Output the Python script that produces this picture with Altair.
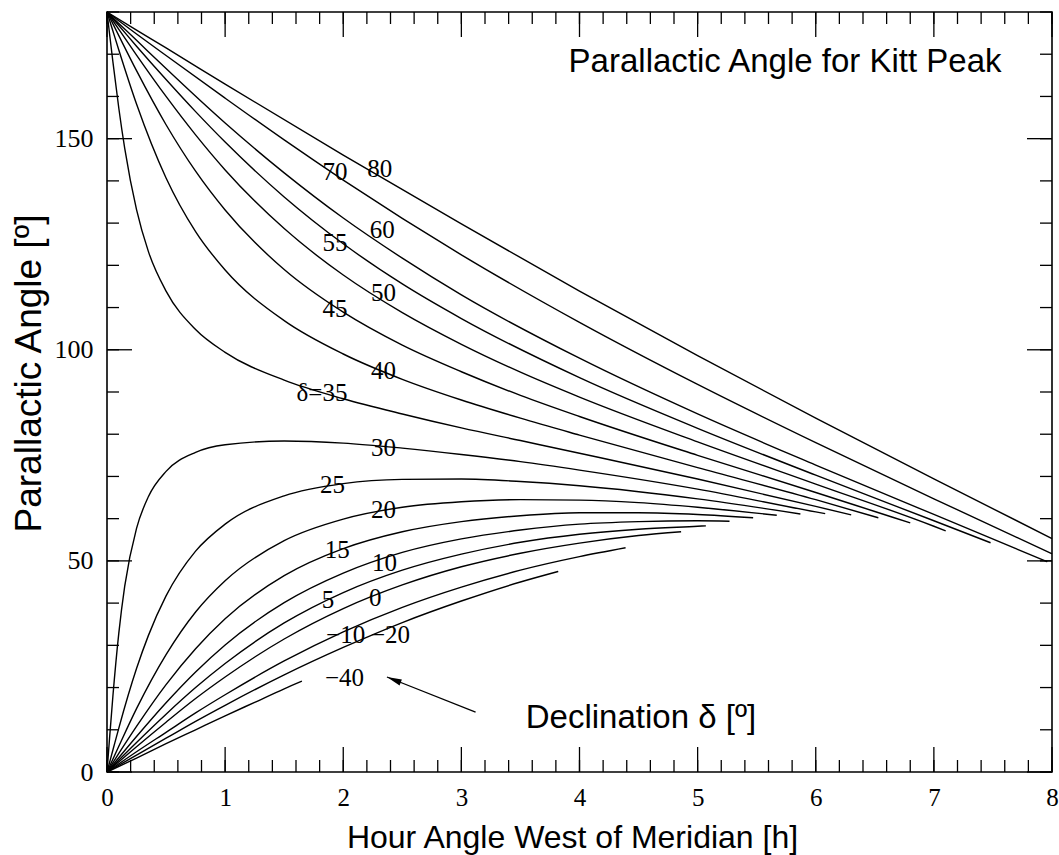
import altair as alt
import pandas as pd

# Parallactic angle (deg) against hour angle west of the meridian (h),
# one pair of arrays per declination.  Curves end where the object
# drops to the observing limit.
H_P80 = [0, 0.25, 0.5, 1, 2, 3, 4, 5, 6, 7, 8]
PA_P80 = [180, 175.7, 171.5, 162.9, 146.1, 129.8, 113.9, 98.6, 83.8, 69.4, 55.3]

H_P70 = [0, 0.25, 0.5, 1, 1.5, 2, 3, 4, 5, 6, 7, 8]
PA_P70 = [180, 174.8, 169.7, 159.6, 149.7, 140.2, 122.5, 106.5, 91.8, 78.0, 64.7, 51.7]

H_P60 = [0, 0.1, 0.25, 0.5, 1, 1.5, 2, 2.5, 3, 4, 5, 6, 7, 7.96]
PA_P60 = [180, 177.3, 173.3, 166.6, 153.7, 141.9, 131.2, 121.7, 113.0, 98.0, 84.8, 72.7, 61.0, 49.8]

H_P55 = [0, 0.1, 0.25, 0.5, 0.75, 1, 1.5, 2, 2.5, 3, 4, 5, 6, 7, 7.48]
PA_P55 = [180, 176.8, 171.9, 164.0, 156.4, 149.2, 136.2, 125.1, 115.6, 107.4, 93.4, 81.4, 70.3, 59.5, 54.3]

H_P50 = [0, 0.1, 0.25, 0.5, 0.75, 1, 1.5, 2, 2.5, 3, 3.5, 4, 5, 6, 7, 7.1]
PA_P50 = [180, 175.9, 169.8, 160.0, 150.9, 142.6, 128.7, 117.7, 108.8, 101.3, 94.7, 88.8, 78.2, 68.2, 58.2, 57.1]

H_P45 = [0, 0.1, 0.25, 0.5, 0.75, 1, 1.5, 2, 2.5, 3, 3.5, 4, 5, 6, 6.5, 6.8]
PA_P45 = [180, 174.4, 166.1, 153.3, 142.3, 133.1, 119.0, 108.9, 101.1, 94.8, 89.2, 84.2, 75.0, 66.2, 61.7, 59.0]

H_P40 = [0, 0.05, 0.1, 0.25, 0.5, 0.75, 1, 1.5, 2, 2.5, 3, 3.5, 4, 5, 6, 6.53]
PA_P40 = [180, 175.5, 171.0, 158.2, 140.7, 128.0, 118.9, 106.9, 99.0, 93.0, 88.1, 83.8, 79.8, 72.1, 64.5, 60.2]

H_P35 = [0, 0.02, 0.05, 0.1, 0.15, 0.25, 0.35, 0.5, 0.75, 1, 1.5, 2, 2.5, 3, 3.5, 4, 5, 6, 6.3]
PA_P35 = [180, 175.2, 168.2, 157.2, 147.7, 133.2, 123.3, 113.9, 104.8, 99.4, 92.8, 88.4, 84.8, 81.5, 78.5, 75.5, 69.4, 62.9, 60.9]

H_P30 = [0, 0.02, 0.05, 0.1, 0.15, 0.25, 0.35, 0.5, 0.75, 1, 1.5, 2, 2.5, 3, 3.5, 4, 5, 6, 6.08]
PA_P30 = [0, 7.4, 18.0, 32.9, 44.0, 57.7, 65.2, 71.2, 75.7, 77.5, 78.4, 77.9, 76.7, 75.2, 73.5, 71.5, 67.0, 61.6, 61.2]

H_P25 = [0, 0.05, 0.1, 0.25, 0.35, 0.5, 0.75, 1, 1.5, 2, 2.5, 3, 3.5, 4, 5, 5.87]
PA_P25 = [0, 5.2, 10.4, 24.5, 32.3, 41.7, 52.3, 58.7, 65.4, 68.3, 69.3, 69.4, 68.8, 67.8, 64.7, 61.1]

H_P20 = [0, 0.1, 0.25, 0.5, 0.75, 1, 1.5, 2, 2.5, 3, 3.5, 4, 4.5, 5, 5.67]
PA_P20 = [0, 6.1, 15.0, 27.8, 37.9, 45.3, 54.8, 59.9, 62.7, 64.0, 64.5, 64.4, 63.8, 62.7, 60.8]

H_P15 = [0, 0.1, 0.25, 0.5, 0.75, 1, 1.5, 2, 2.5, 3, 3.5, 4, 4.5, 5, 5.47]
PA_P15 = [0, 4.4, 10.8, 20.7, 29.2, 36.3, 46.5, 52.9, 56.9, 59.3, 60.7, 61.4, 61.4, 61.0, 60.2]

H_P10 = [0, 0.25, 0.5, 0.75, 1, 1.5, 2, 2.5, 3, 3.5, 4, 4.5, 5, 5.27]
PA_P10 = [0, 8.4, 16.4, 23.7, 30.1, 40.1, 47.1, 52.0, 55.2, 57.3, 58.7, 59.3, 59.5, 59.4]

H_P5 = [0, 0.25, 0.5, 0.75, 1, 1.5, 2, 2.5, 3, 3.5, 4, 4.5, 5, 5.07]
PA_P5 = [0, 7.0, 13.7, 20.0, 25.7, 35.3, 42.5, 47.8, 51.6, 54.4, 56.3, 57.5, 58.2, 58.3]

H_0 = [0, 0.25, 0.5, 0.75, 1, 1.5, 2, 2.5, 3, 3.5, 4, 4.5, 4.86]
PA_0 = [0, 6.0, 11.8, 17.4, 22.5, 31.5, 38.7, 44.3, 48.6, 51.8, 54.2, 56.0, 56.9]

H_M10 = [0, 0.25, 0.5, 0.75, 1, 1.5, 2, 2.5, 3, 3.5, 4, 4.39]
PA_M10 = [0, 4.8, 9.4, 14.0, 18.3, 26.3, 33.2, 39.0, 43.8, 47.8, 51.0, 53.1]

H_M20 = [0, 0.25, 0.5, 0.75, 1, 1.5, 2, 2.5, 3, 3.5, 3.82]
PA_M20 = [0, 4.0, 8.0, 12.0, 15.8, 23.0, 29.5, 35.4, 40.5, 45.0, 47.5]

H_M40 = [0, 0.25, 0.5, 0.75, 1, 1.25, 1.5, 1.65]
PA_M40 = [0, 3.3, 6.7, 10.0, 13.3, 16.5, 19.7, 21.5]

CURVES = [
    (80, H_P80, PA_P80), (70, H_P70, PA_P70), (60, H_P60, PA_P60),
    (55, H_P55, PA_P55), (50, H_P50, PA_P50), (45, H_P45, PA_P45),
    (40, H_P40, PA_P40), (35, H_P35, PA_P35), (30, H_P30, PA_P30),
    (25, H_P25, PA_P25), (20, H_P20, PA_P20), (15, H_P15, PA_P15),
    (10, H_P10, PA_P10), (5, H_P5, PA_P5), (0, H_0, PA_0),
    (-10, H_M10, PA_M10), (-20, H_M20, PA_M20), (-40, H_M40, PA_M40),
]

# In-plot declination labels
LABEL_TEXT = ["70", "80", "55", "60", "45", "50", "40", "δ=35", "30", "25",
              "20", "15", "10", "5", "0", "−10", "−20", "−40"]
LABEL_HOUR = [1.93, 2.31, 1.93, 2.33, 1.93, 2.34, 2.34, 1.82, 2.34, 1.91,
              2.34, 1.95, 2.35, 1.87, 2.27, 2.02, 2.40, 2.01]
LABEL_ANGLE = [142.2, 142.9, 125.4, 128.4, 109.7, 113.5, 95.0, 89.8, 76.8, 68.0,
               62.0, 52.6, 49.5, 40.8, 41.2, 32.5, 32.5, 22.3]

# Annotation texts and the arrow pointing at the labels
NOTE_TEXT = ["Parallactic Angle for Kitt Peak", "Declination δ [º]"]
NOTE_HOUR = [5.74, 4.52]
NOTE_ANGLE = [165.9, 10.4]
ARROW_HOUR = [3.12, 2.37]
ARROW_ANGLE = [14.2, 22.5]

X_MAJOR = [0, 1, 2, 3, 4, 5, 6, 7, 8]
Y_MAJOR = [0, 50, 100, 150]
X_MINOR = [i / 5 for i in range(41)]
Y_MINOR = [i * 10 for i in range(19)]

W, H = 945, 760
MINOR_LEN, MAJOR_LEN = 12, 25
TICK_W = 1.3

rows = []
for dec, hours, angles in CURVES:
    for h, a in zip(hours, angles):
        rows.append({"dec": dec, "hour": h, "angle": a})
curves_df = pd.DataFrame(rows)

xs = alt.Scale(domain=[0, 8], nice=False, zero=False)
ys = alt.Scale(domain=[0, 180], nice=False, zero=False)

x_axis = alt.Axis(
    values=X_MAJOR, format="d", ticks=False, domain=False, grid=False,
    labelFont="Liberation Serif", labelFontSize=25, labelColor="black",
    labelPadding=13, labelFlush=False,
    title="Hour Angle West of Meridian [h]", titleFont="Liberation Sans",
    titleFontSize=32, titleFontWeight="normal", titleColor="black",
    titleX=465, titleY=75, titleBaseline="alphabetic",
)
y_axis = alt.Axis(
    values=Y_MAJOR, format="d", ticks=False, domain=False, grid=False,
    labelFont="Liberation Serif", labelFontSize=26, labelColor="black",
    labelPadding=14, labelFlush=False,
    title="Parallactic Angle [º]", titleFont="Liberation Sans",
    titleFontSize=37, titleFontWeight="normal", titleColor="black",
    titleX=-67, titleY=361, titleAngle=270, titleBaseline="alphabetic",
    titleAlign="center",
)


def enc_x():
    # every layer carries the same axis so the layered axes merge cleanly
    return alt.X("hour:Q", scale=xs, axis=x_axis)


def enc_y():
    return alt.Y("angle:Q", scale=ys, axis=y_axis)


lines = alt.Chart(curves_df).mark_line(
    color="black", strokeWidth=1.4, interpolate="monotone"
).encode(x=enc_x(), y=enc_y(), detail="dec:N")


def x_ticks(values, length):
    src = pd.DataFrame({"hour": values})
    bottom = alt.Chart(src).mark_rule(color="black", strokeWidth=TICK_W).encode(
        x=enc_x(), y=alt.value(H), y2=alt.value(H - length),
    )
    top = alt.Chart(src).mark_rule(color="black", strokeWidth=TICK_W).encode(
        x=enc_x(), y=alt.value(0), y2=alt.value(length),
    )
    return [bottom, top]


def y_ticks(values, length):
    src = pd.DataFrame({"angle": values})
    left = alt.Chart(src).mark_rule(color="black", strokeWidth=TICK_W).encode(
        y=enc_y(), x=alt.value(0), x2=alt.value(length),
    )
    right = alt.Chart(src).mark_rule(color="black", strokeWidth=TICK_W).encode(
        y=enc_y(), x=alt.value(W), x2=alt.value(W - length),
    )
    return [left, right]


tick_layers = (x_ticks(X_MINOR, MINOR_LEN) + x_ticks(X_MAJOR, MAJOR_LEN)
               + y_ticks(Y_MINOR, MINOR_LEN) + y_ticks(Y_MAJOR, MAJOR_LEN))

labels_df = pd.DataFrame({"text": LABEL_TEXT, "hour": LABEL_HOUR, "angle": LABEL_ANGLE})
labels = alt.Chart(labels_df).mark_text(
    font="Liberation Serif", fontSize=25, color="black",
    align="center", baseline="middle",
).encode(x=enc_x(), y=enc_y(), text="text:N")

notes_df = pd.DataFrame({"text": NOTE_TEXT, "hour": NOTE_HOUR, "angle": NOTE_ANGLE})
notes = alt.Chart(notes_df).mark_text(
    font="Liberation Sans", fontSize=33, color="black",
    align="center", baseline="alphabetic",
).encode(x=enc_x(), y=enc_y(), text="text:N")

arrow_df = pd.DataFrame({"hour": ARROW_HOUR, "angle": ARROW_ANGLE, "end": [0, 1]})
shaft = alt.Chart(arrow_df).mark_line(color="black", strokeWidth=1.3).encode(
    x=enc_x(), y=enc_y(), order="end:Q",
)
head = alt.Chart(arrow_df).transform_filter(alt.datum.end == 1).mark_point(
    shape="M0,0L2,-0.42L2,0.42Z", filled=True, color="black", opacity=1,
    size=220, angle=21.7, strokeWidth=0,
).encode(x=enc_x(), y=enc_y())

chart = alt.layer(lines, *tick_layers, labels, notes, shaft, head).properties(
    width=W, height=H,
    autosize=alt.AutoSizeParams(type="none"),
    padding={"left": 107, "top": 12, "right": 7, "bottom": 83},
    background="white",
).configure_view(
    stroke="black", strokeWidth=1.6,
)

chart.save("out.html", embed_options={"renderer": "svg", "actions": False})
